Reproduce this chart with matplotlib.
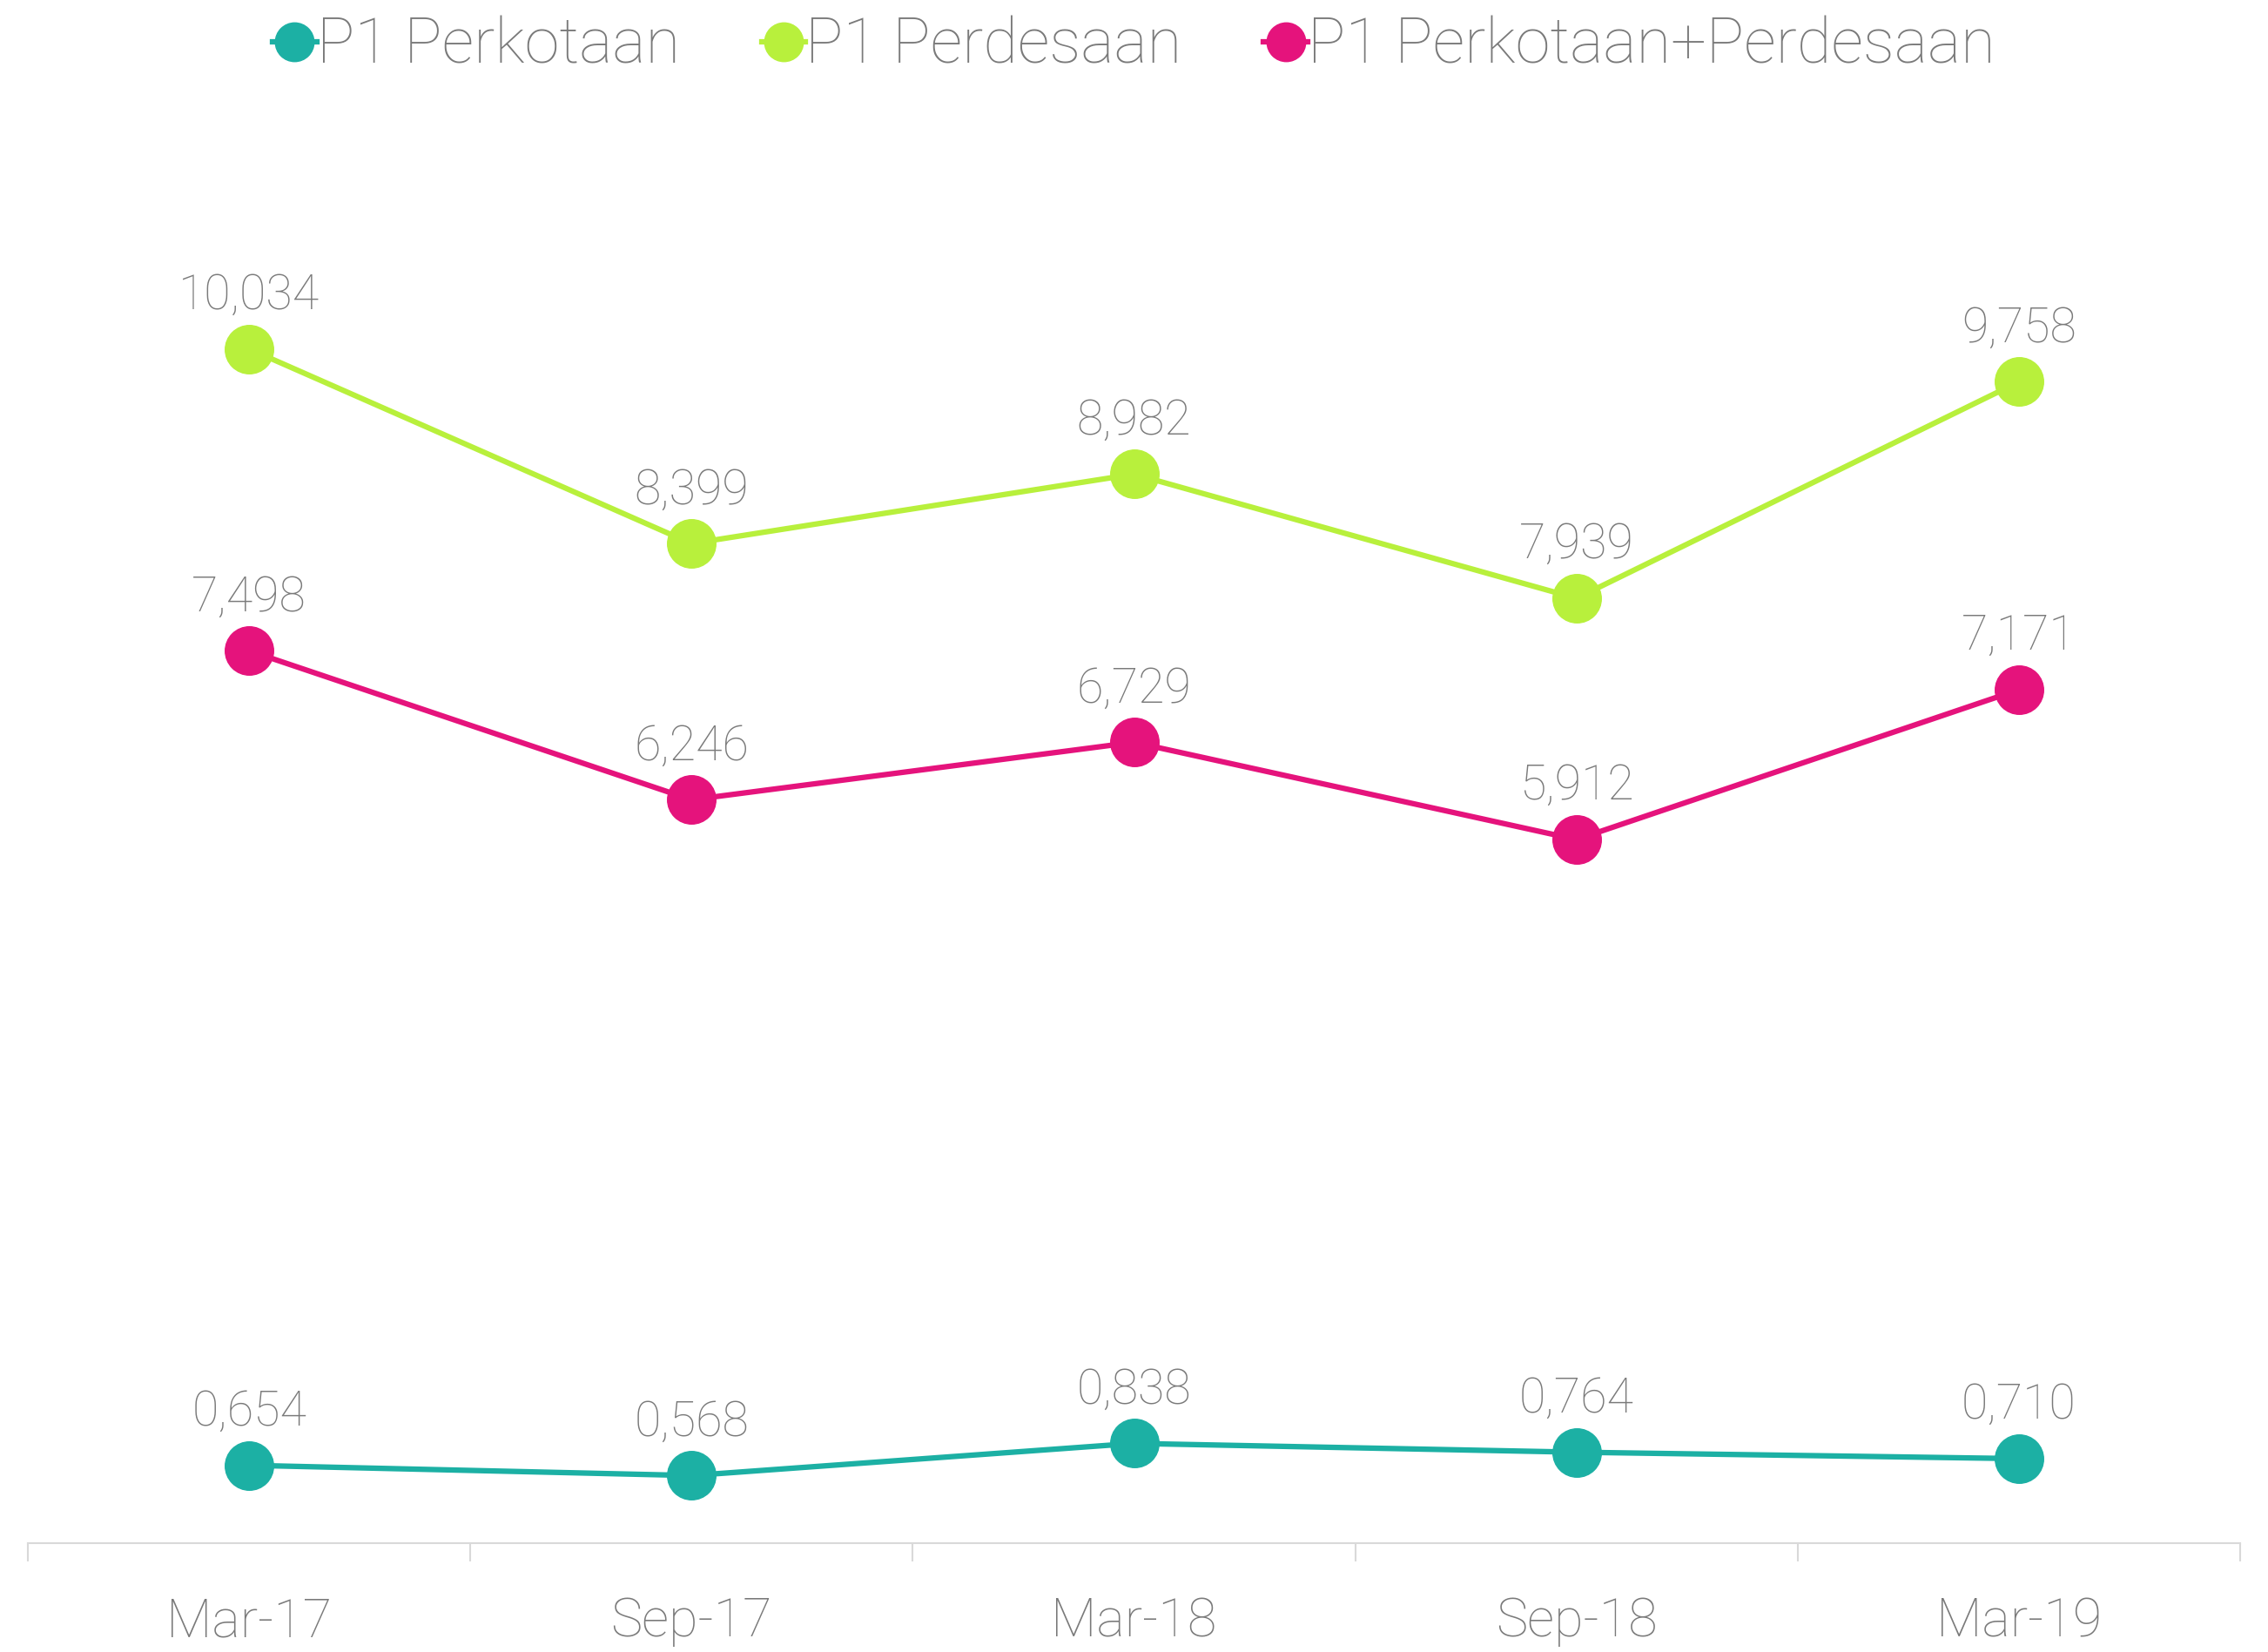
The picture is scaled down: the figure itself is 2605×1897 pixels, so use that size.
import matplotlib
matplotlib.use('Agg')
import matplotlib.pyplot as plt
import numpy as np

# данные
periode = ['Mar-17', 'Sep-17', 'Mar-18', 'Sep-18', 'Mar-19']
p1_kota = [0.654, 0.568, 0.838, 0.764, 0.710]
p1_desa = [10.034, 8.399, 8.982, 7.939, 9.758]
p1_gabung = [7.498, 6.246, 6.729, 5.912, 7.171]

plt.rcParams['font.family'] = ['Roboto', 'DejaVu Sans']
abu = '#7a7a7a'

fig = plt.figure(figsize=(26.05, 18.97), dpi=100)
ax = fig.add_axes([0.0123, 0.0659, 0.9754, 0.8645])

x = np.arange(len(periode))
seri = [
    ('P1 Perkotaan', p1_kota, '#1cb0a4'),
    ('P1 Perdesaan', p1_desa, '#b8f03c'),
    ('P1 Perkotaan+Perdesaan', p1_gabung, '#e5137c'),
]
for nama, nilai, warna in seri:
    ax.plot(x, nilai, color=warna, lw=4.5, marker='o', markersize=40, label=nama, zorder=3)
    for xi, v in zip(x, nilai):
        teks = ('%.3f' % v).replace('.', ',')
        ax.annotate(teks, (xi, v), xytext=(0, 33), textcoords='offset points',
                    ha='center', va='baseline', fontsize=40, color=abu, fontweight='light')

ax.set_xlim(-0.5, 4.5)
ax.set_ylim(0, 12)
ax.set_xticks(x)
ax.set_xticklabels(periode, fontweight='light')
ax.set_xticks(np.arange(-0.5, 5, 1), minor=True)
ax.tick_params(axis='x', which='major', length=0, pad=44, labelsize=44, labelcolor=abu)
ax.tick_params(axis='x', which='minor', length=15, width=1.5, color='#d9d9d9')
ax.set_yticks([])
for s in ['top', 'right', 'left']:
    ax.spines[s].set_visible(False)
ax.spines['bottom'].set_color('#d9d9d9')
ax.spines['bottom'].set_linewidth(1.5)

leg = fig.legend(loc='center', bbox_to_anchor=(0.5, 0.972), ncol=3, frameon=False,
                 fontsize=52, handlelength=0.7, handletextpad=0.0, columnspacing=1.3,
                 markerscale=0.8)
for t in leg.get_texts():
    t.set_color(abu)
    t.set_fontweight('light')

fig.savefig('out.png', dpi=100)
